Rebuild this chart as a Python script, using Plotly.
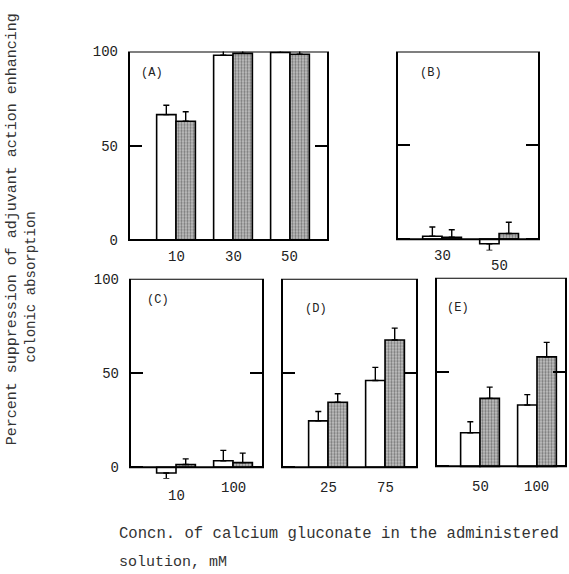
import plotly.graph_objects as go

# ---- data ----
panel_names = ["(A)", "(B)", "(C)", "(D)", "(E)"]
conc_A = ["10", "30", "50"]
white_A = [66.5, 98.0, 99.5]
white_err_A = [5.0, 3.0, 4.0]
gray_A = [63.0, 99.0, 98.5]
gray_err_A = [5.0, 4.0, 4.0]

conc_B = ["30", "50"]
white_B = [1.5, -2.5]
white_err_B = [5.0, 3.5]
gray_B = [1.0, 3.0]
gray_err_B = [4.0, 6.0]

conc_C = ["10", "100"]
white_C = [-3.0, 3.5]
white_err_C = [3.0, 5.5]
gray_C = [1.5, 2.5]
gray_err_C = [3.0, 5.0]

conc_D = ["25", "75"]
white_D = [24.6, 46.0]
white_err_D = [5.0, 7.0]
gray_D = [34.5, 67.5]
gray_err_D = [4.5, 6.3]

conc_E = ["50", "100"]
white_E = [17.8, 32.5]
white_err_E = [5.8, 5.5]
gray_E = [36.0, 58.0]
gray_err_E = [6.0, 7.7]

y_ticks = [0, 50, 100]
y_title_1 = "Percent suppression of adjuvant action enhancing"
y_title_2 = "colonic absorption"
x_title_1 = "Concn. of calcium gluconate in the administered"
x_title_2 = "solution, mM"

# ---- layout geometry (pixels) ----
W, H = 569, 574
FONT = "Courier New, Liberation Mono, monospace"
YMIN = -6

panels = [
    dict(cats=conc_A, w=white_A, we=white_err_A, g=gray_A, ge=gray_err_A,
         px=(129, 328), py=(45, 236), rng=(-0.825, 2.667), ylab=True,
         lab_dy=[17, 17, 17], lab=(0.05, 88.5)),
    dict(cats=conc_B, w=white_B, we=white_err_B, g=gray_B, ge=gray_err_B,
         px=(397, 539), py=(45, 235), rng=(-0.79, 1.70), ylab=False,
         lab_dy=[17, 27], lab=(0.148, 88.5)),
    dict(cats=conc_C, w=white_C, we=white_err_C, g=gray_C, ge=gray_err_C,
         px=(130, 263), py=(275, 466), rng=(-0.807, 1.526), ylab=True,
         lab_dy=[29, 21], lab=(0.11, 88.5)),
    dict(cats=conc_D, w=white_D, we=white_err_D, g=gray_D, ge=gray_err_D,
         px=(282, 417), py=(275, 466), rng=(-0.807, 1.561), ylab=False,
         lab_dy=[21, 21], lab=(0.155, 84)),
    dict(cats=conc_E, w=white_E, we=white_err_E, g=gray_E, ge=gray_err_E,
         px=(436, 566), py=(274, 465), rng=(-0.772, 1.509), ylab=False,
         lab_dy=[21, 21], lab=(0.07, 84)),
]

BW = 0.34
fig = go.Figure()
annotations = []
shapes = []
layout = {}


def err_split(vals, errs):
    up = [e if v >= 0 else 0 for v, e in zip(vals, errs)]
    dn = [e if v < 0 else 0 for v, e in zip(vals, errs)]
    return up, dn


for i, p in enumerate(panels):
    n = "" if i == 0 else str(i + 1)
    xa, ya = "x" + n, "y" + n
    xs = list(range(len(p["cats"])))
    up, dn = err_split(p["w"], p["we"])
    fig.add_trace(go.Bar(
        x=xs, y=p["w"], width=BW, offset=-BW, xaxis=xa, yaxis=ya,
        marker=dict(color="white", line=dict(color="black", width=1.6)),
        error_y=dict(type="data", symmetric=False, array=up, arrayminus=dn,
                     color="black", thickness=1.4, width=3),
        showlegend=False))
    up, dn = err_split(p["g"], p["ge"])
    fig.add_trace(go.Bar(
        x=xs, y=p["g"], width=BW, offset=0, xaxis=xa, yaxis=ya,
        marker=dict(color="#b0b0b0", line=dict(color="black", width=1.6),
                    pattern=dict(shape=".", fgcolor="#2a2a2a", bgcolor="#c4c4c4",
                                 size=3, solidity=0.45)),
        error_y=dict(type="data", symmetric=False, array=up, arrayminus=dn,
                     color="black", thickness=1.4, width=3),
        showlegend=False))

    ppu = (p["py"][1] - p["py"][0]) / 100.0
    bottom_px = p["py"][1] - YMIN * ppu
    layout["xaxis" + n] = dict(
        domain=[p["px"][0] / W, p["px"][1] / W], anchor=ya, range=list(p["rng"]),
        showticklabels=False, ticks="", showgrid=False, zeroline=False, showline=False)
    layout["yaxis" + n] = dict(
        domain=[1 - bottom_px / H, 1 - p["py"][0] / H], anchor=xa, range=[YMIN, 100],
        tickvals=y_ticks, ticktext=[str(t) for t in y_ticks] if p["ylab"] else ["", "", ""],
        ticks="inside", ticklen=13, tickwidth=2, tickcolor="black",
        showgrid=False, zeroline=False, showline=False, mirror="ticks",
        tickfont=dict(family=FONT, size=14, color="#222"), ticklabelstandoff=10)

    # frame from 0 to 100 in data units
    shapes.append(dict(type="rect", xref=xa + " domain", x0=0, x1=1, yref=ya,
                       y0=0, y1=100, line=dict(color="black", width=2), layer="above"))

    for k, c in enumerate(p["cats"]):
        annotations.append(dict(
            text=c, xref=xa, x=xs[k], yref=ya, y=0,
            xanchor="center", yanchor="middle", yshift=-p["lab_dy"][k],
            showarrow=False, font=dict(family=FONT, size=14, color="#222")))

    annotations.append(dict(
        text=panel_names[i], xref=xa + " domain", x=p["lab"][0],
        yref=ya, y=p["lab"][1], xanchor="left", yanchor="middle",
        showarrow=False, font=dict(family=FONT, size=12, color="#222")))

annotations += [
    dict(text=y_title_1, xref="paper", x=12 / W, yref="paper", y=1 - 225 / H,
         textangle=-90, showarrow=False, xanchor="center", yanchor="middle",
         font=dict(family=FONT, size=15, color="#333")),
    dict(text=y_title_2, xref="paper", x=31 / W, yref="paper", y=1 - 284 / H,
         textangle=-90, showarrow=False, xanchor="center", yanchor="middle",
         font=dict(family=FONT, size=14, color="#333")),
    dict(text=x_title_1, xref="paper", x=117 / W, yref="paper", y=1 - 533 / H,
         showarrow=False, xanchor="left", yanchor="middle",
         font=dict(family=FONT, size=15.6, color="#333")),
    dict(text=x_title_2, xref="paper", x=117 / W, yref="paper", y=1 - 562 / H,
         showarrow=False, xanchor="left", yanchor="middle",
         font=dict(family=FONT, size=15, color="#333")),
]

fig.update_layout(
    width=W, height=H, margin=dict(l=0, r=0, t=0, b=0, pad=0),
    paper_bgcolor="white", plot_bgcolor="white", barmode="overlay",
    annotations=annotations, shapes=shapes, **layout)

fig.write_html("out.html")
